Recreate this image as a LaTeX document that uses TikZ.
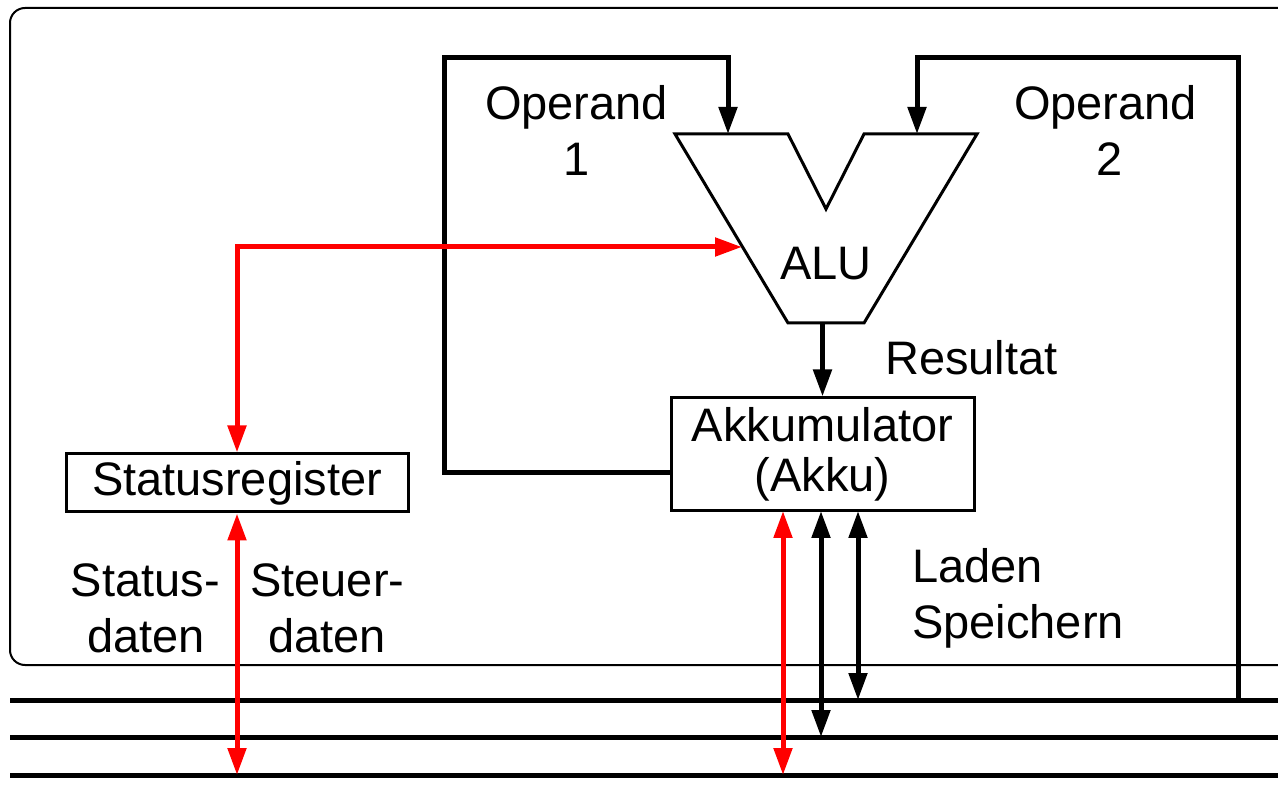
\documentclass[tikz,border=0pt]{standalone}
\usepackage{fontspec}
\setmainfont{Liberation Sans}
\usetikzlibrary{arrows.meta}
\begin{document}
\begin{tikzpicture}[x=1pt,y=-1pt,
  lbl/.style={font=\fontsize{47}{56}\selectfont, inner sep=0pt, anchor=base},
  regbox/.style={draw, line width=3pt, inner sep=0pt, font=\fontsize{47}{50}\selectfont, align=center},
  wire/.style={line width=5pt, line join=miter},
  busline/.style={line width=5pt},
  tip/.style={-{Triangle[width=18pt,length=27pt]}},
  dtip/.style={{Triangle[width=18pt,length=27pt]}-{Triangle[width=18pt,length=27pt]}},
  sig/.style={line width=5pt, red}]
\useasboundingbox (0,0) rectangle (1278,791);
\fill[white] (0,0) rectangle (1278,791);
% frame
\draw[line width=2pt, rounded corners=15pt] (1320,665) -- (10,665) -- (10,8) -- (1320,8);
% bus lines
\coordinate (b1l) at (10,700); \coordinate (b1r) at (1290,700);
\coordinate (b2l) at (10,737); \coordinate (b2r) at (1290,737);
\coordinate (b3l) at (10,775); \coordinate (b3r) at (1290,775);
\draw[busline] (b1l) -- (b1r);
\draw[busline] (b2l) -- (b2r);
\draw[busline] (b3l) -- (b3r);
% ALU
\coordinate (alutl) at (675,134);
\coordinate (alunl) at (788,134);
\coordinate (alunb) at (826,209);
\coordinate (alunr) at (864,134);
\coordinate (alutr) at (977,134);
\coordinate (alubr) at (864,323);
\coordinate (alubl) at (788,323);
\draw[line width=3pt, line join=miter, fill=white] (alutl) -- (alunl) -- (alunb) -- (alunr) -- (alutr) -- (alubr) -- (alubl) -- cycle;
\node[lbl] (alulbl) at (826,280) {ALU};
\coordinate (aluin1) at (728,134);
\coordinate (aluin2) at (917,134);
\coordinate (aluctl) at (742,247);
% registers
\node[regbox, minimum width=303pt, minimum height=113pt] (akku) at (822.5,454.5) {Akkumulator\\(Akku)};
\node[regbox, minimum width=342pt, minimum height=58pt] (sr) at (237,483) {Statusregister};
\coordinate (aluout) at (akku.north |- alubl);
% operand loops
\coordinate (akkuL) at (671,473);
\draw[wire, tip] (akkuL) -- (444,473) -- (444,58) -- (728,58) -- (aluin1);
\coordinate (bustap) at (1238,700);
\draw[wire, tip] (bustap) -- (1238,58) -- (917,58) -- (aluin2);
% result
\draw[wire, tip] (aluout) -- (akku.north);
% red control
\draw[sig, dtip] (sr.north) -- (237,247) -- (aluctl);
\coordinate (srbus) at (237,775);
\draw[sig, dtip] (sr.south) -- (srbus);
\coordinate (akred) at (783,511);
\coordinate (akredbus) at (783,775);
\draw[sig, dtip] (akred) -- (akredbus);
% load/store
\coordinate (ak1) at (821,511);
\coordinate (ak1bus) at (821,737);
\coordinate (ak2) at (858,511);
\coordinate (ak2bus) at (858,700);
\draw[wire, dtip] (ak1) -- (ak1bus);
\draw[wire, dtip] (ak2) -- (ak2bus);
% labels
\node[lbl] (op1a) at (576.5,120) {Operand};
\node[lbl] (op1b) at (576.5,176) {1};
\node[lbl] (op2a) at (1105.5,120) {Operand};
\node[lbl] (op2b) at (1110,176) {2};
\node[lbl, anchor=base west] (res) at (885,375) {Resultat};
\node[lbl, anchor=base west] (lad) at (912,583) {Laden};
\node[lbl, anchor=base west] (spe) at (912,638) {Speichern};
\node[lbl, anchor=base east] (sta) at (220,596) {Status-};
\node[lbl, anchor=base] (stb) at (146,652) {daten};
\node[lbl, anchor=base west] (ste) at (250,596) {Steuer-};
\node[lbl, anchor=base] (stf) at (327,652) {daten};
\end{tikzpicture}
\end{document}
